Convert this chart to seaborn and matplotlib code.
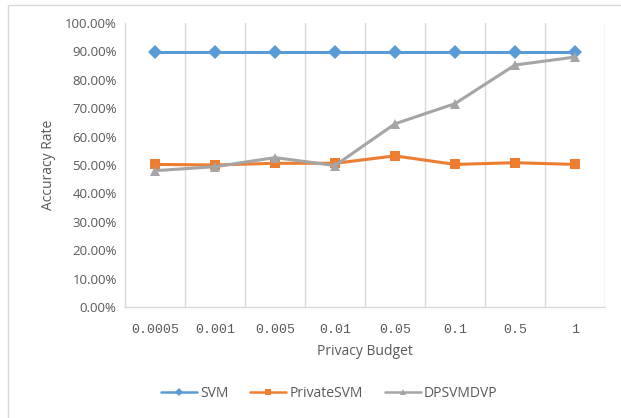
import pandas as pd
import seaborn as sns
import matplotlib.pyplot as plt
from matplotlib.patches import Rectangle
from matplotlib.ticker import FuncFormatter, FixedLocator


# Datos
budgets = ['0.0005', '0.001', '0.005', '0.01', '0.05', '0.1', '0.5', '1']
svm = [89.7, 89.7, 89.7, 89.7, 89.7, 89.7, 89.7, 89.7]
private_svm = [50.2, 50.0, 50.6, 50.6, 53.2, 50.2, 50.8, 50.2]
dpsvmdvp = [48.0, 49.4, 52.6, 49.8, 64.5, 71.6, 85.2, 88.0]

series = ['SVM', 'PrivateSVM', 'DPSVMDVP']
colors = {'SVM': '#5B9BD5', 'PrivateSVM': '#ED7D31', 'DPSVMDVP': '#A5A5A5'}
markers = {'SVM': 'D', 'PrivateSVM': 's', 'DPSVMDVP': '^'}

df = pd.DataFrame({
    'budget': budgets * 3,
    'acc': svm + private_svm + dpsvmdvp,
    'model': [s for s in series for _ in budgets],
})

sns.set_style('white')
plt.rcParams['font.family'] = ['Open Sans', 'DejaVu Sans']
text_color = '#595959'

fig = plt.figure(figsize=(6.21, 4.18), dpi=100)
ax = fig.add_axes([0.2013, 0.2656, 0.7729, 0.6794])

sns.lineplot(data=df, x='budget', y='acc', hue='model', style='model',
             palette=colors, markers=markers, dashes=False, sort=False,
             linewidth=2.2, markersize=7, markeredgewidth=0, ax=ax)

# Ejes
ax.set_xlim(-0.5, len(budgets) - 0.5)
ax.set_ylim(0, 100)
ax.set_yticks(range(0, 101, 10))
ax.yaxis.set_major_formatter(FuncFormatter(lambda v, p: '%.2f%%' % v))
ax.set_xticks(range(len(budgets)))
ax.set_xticklabels(budgets, family='Liberation Mono', fontsize=9.5, color=text_color)
ax.xaxis.set_minor_locator(FixedLocator([i + 0.5 for i in range(len(budgets))]))
ax.grid(False)
ax.grid(True, which='minor', axis='x', color='#D9D9D9', linewidth=1)
ax.tick_params(axis='both', which='both', length=0, pad=12)
ax.tick_params(axis='y', labelsize=9.5, labelcolor=text_color, pad=6)

for side in ['top', 'right']:
    ax.spines[side].set_visible(False)
for side in ['left', 'bottom']:
    ax.spines[side].set_color('#D9D9D9')
    ax.spines[side].set_linewidth(1)

ax.set_xlabel('Privacy Budget', fontsize=10, color=text_color, labelpad=6)
ax.set_ylabel('Accuracy Rate', fontsize=10, color=text_color, labelpad=6)

# Leyenda
handles, labels = ax.get_legend_handles_labels()
leg = ax.legend(handles, labels, loc='center', bbox_to_anchor=(0.53, 0.058),
                bbox_transform=fig.transFigure, ncol=3, frameon=False,
                handlelength=2.6, columnspacing=1.6, handletextpad=0.2,
                fontsize=10, labelcolor=text_color)
for h in leg.legend_handles:
    h.set_markersize(4.5)
    h.set_linewidth(1.8)

# Borde exterior
fig.patches.append(Rectangle((8 / 621, -0.01), 1.0, 1 - 5 / 418 + 0.01,
                             transform=fig.transFigure, fill=False,
                             edgecolor='#D9D9D9', linewidth=1))

fig.savefig('out.png', dpi=100)
